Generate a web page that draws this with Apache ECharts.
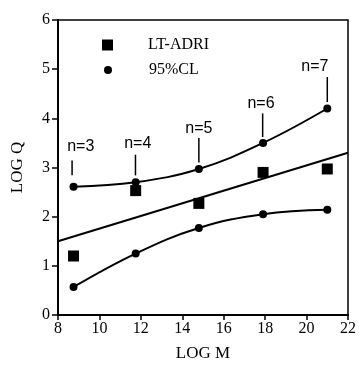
<!DOCTYPE html>
<html>
<head>
<meta charset="utf-8">
<script src="https://cdn.jsdelivr.net/npm/echarts@6/dist/echarts.min.js"></script>
<style>
html,body{margin:0;padding:0;background:#fff;}
#chart{width:359px;height:367px;}
</style>
</head>
<body>
<div id="chart"></div>
<script>
const xVals = [8.75, 11.75, 14.8, 17.9, 21.0];
const ltAdri = [1.2, 2.53, 2.27, 2.9, 2.97];
const upperCL = [2.61, 2.7, 2.97, 3.5, 4.2];
const lowerCL = [0.57, 1.25, 1.77, 2.05, 2.14];
const regLine = [[8, 1.5], [22, 3.3]];
const nLabels = ['n=3', 'n=4', 'n=5', 'n=6', 'n=7'];
const labelX = [9.1, 11.85, 14.8, 17.8, 20.4];
const labelY = [3.43, 3.49, 3.8, 4.3, 5.06];
const tickX = [8.68, 11.74, 14.8, 17.88, 21.0];
const tickLo = [2.84, 2.84, 3.1, 3.62, 4.33];
const tickHi = [3.14, 3.26, 3.6, 4.1, 4.84];

const serif = 'Liberation Serif';
const sans = 'Liberation Sans';
const pair = (ys) => xVals.map((x, i) => [x, ys[i]]);

const chart = echarts.init(document.getElementById('chart'));
chart.setOption({
  animation: false,
  backgroundColor: '#fff',
  grid: {left: 58, right: 9, top: 20, bottom: 52, show: true, borderColor: '#000', borderWidth: 1.5},
  legend: [{
    data: [{name: 'LT-ADRI', icon: 'rect'}],
    left: 97, top: 32, itemWidth: 11, itemHeight: 11,
    itemStyle: {opacity: 1},
    textStyle: {fontFamily: serif, fontSize: 16, color: '#000', padding: [0, 0, 0, 30]}
  }, {
    data: [{name: '95%CL', icon: 'circle'}],
    left: 99, top: 57, itemWidth: 8, itemHeight: 8,
    textStyle: {fontFamily: serif, fontSize: 16, color: '#000', padding: [0, 0, 0, 32]}
  }],
  xAxis: {
    type: 'value', min: 8, max: 22, interval: 2,
    name: 'LOG M', nameLocation: 'middle', nameGap: 30,
    nameTextStyle: {fontFamily: serif, fontSize: 17, color: '#000'},
    axisLine: {lineStyle: {color: '#000', width: 2}},
    axisTick: {show: true, length: 5, lineStyle: {color: '#000', width: 1.5}},
    axisLabel: {fontFamily: serif, fontSize: 16, color: '#000', margin: 6},
    splitLine: {show: false}
  },
  yAxis: {
    type: 'value', min: 0, max: 6, interval: 1,
    name: 'LOG Q', nameLocation: 'middle', nameGap: 32,
    nameTextStyle: {fontFamily: serif, fontSize: 17, color: '#000'},
    axisLine: {show: true, lineStyle: {color: '#000', width: 2}},
    axisTick: {show: true, length: 6, lineStyle: {color: '#000', width: 1.5}},
    axisLabel: {fontFamily: serif, fontSize: 16, color: '#000', margin: 8},
    splitLine: {show: false}
  },
  series: [
    {
      name: 'LT-ADRI', type: 'scatter', symbol: 'rect', symbolSize: 11,
      itemStyle: {color: '#000', opacity: 1}, data: pair(ltAdri), z: 5,
      emphasis: {disabled: true}
    },
    {
      name: '95%CL', type: 'line', smooth: 0.4, symbol: 'circle', symbolSize: 8,
      showAllSymbol: true, emphasis: {disabled: true},
      lineStyle: {color: '#000', width: 2}, itemStyle: {color: '#000'},
      data: pair(upperCL)
    },
    {
      name: '95%CL', type: 'line', smooth: 0.4, symbol: 'circle', symbolSize: 8,
      emphasis: {disabled: true},
      lineStyle: {color: '#000', width: 2}, itemStyle: {color: '#000'},
      data: pair(lowerCL)
    },
    {
      name: 'fit', type: 'line', symbol: 'none',
      lineStyle: {color: '#000', width: 2}, data: regLine
    },
    {
      name: 'ticks', type: 'custom',
      data: tickX.map((x, i) => [x, tickLo[i], tickHi[i]]),
      renderItem: (params, api) => {
        const a = api.coord([api.value(0), api.value(1)]);
        const b = api.coord([api.value(0), api.value(2)]);
        return {type: 'line', shape: {x1: a[0], y1: a[1], x2: b[0], y2: b[1]},
          style: {stroke: '#000', lineWidth: 1.5}};
      }
    },
    {
      name: 'nlabels', type: 'scatter', symbolSize: 0,
      itemStyle: {opacity: 1}, emphasis: {disabled: true},
      data: labelX.map((x, i) => [x, labelY[i]]),
      label: {
        show: true, position: 'inside',
        formatter: (p) => nLabels[p.dataIndex],
        fontFamily: sans, fontSize: 16, color: '#000'
      }
    }
  ]
});
</script>
</body>
</html>
